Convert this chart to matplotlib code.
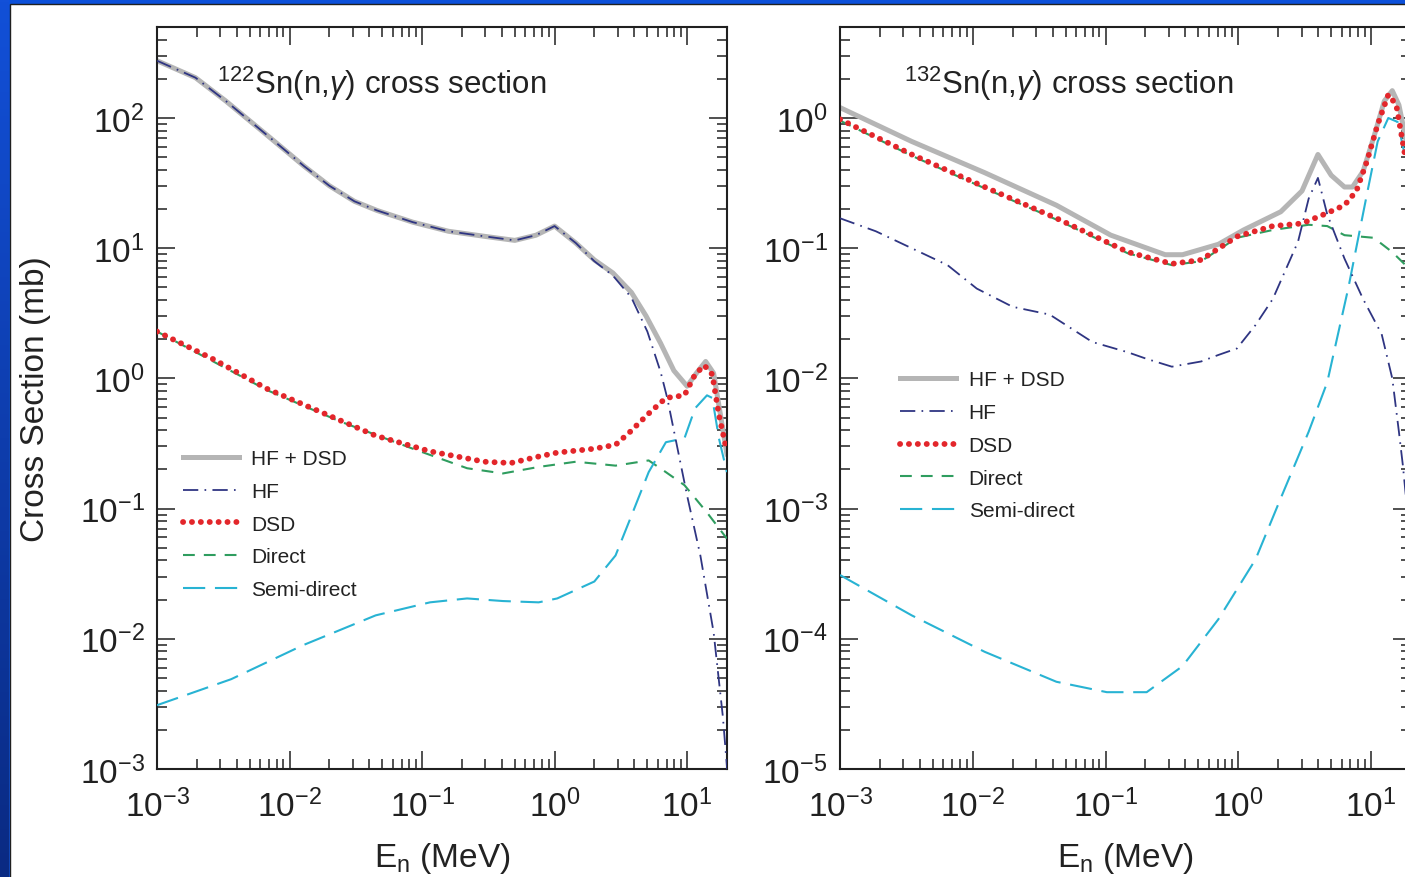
import numpy as np
import matplotlib
matplotlib.use('Agg')
import matplotlib.pyplot as plt
from matplotlib import font_manager
from matplotlib.patches import Rectangle
from matplotlib.ticker import LogLocator, NullFormatter

# narrow font for ticks / titles if there is one
names = set(f.name for f in font_manager.fontManager.ttflist)
narrow = 'Liberation Sans Narrow' if 'Liberation Sans Narrow' in names else 'Liberation Sans'

plt.rcParams['font.family'] = ['Liberation Sans', 'DejaVu Sans']
plt.rcParams['mathtext.fontset'] = 'custom'
plt.rcParams['mathtext.rm'] = narrow
plt.rcParams['mathtext.it'] = narrow + ':italic'
plt.rcParams['mathtext.bf'] = narrow + ':bold'
plt.rcParams['lines.scale_dashes'] = False

# ---- data, log10(E / MeV) and log10(sigma / mb) ----
# 122Sn panel
sn122_tot_x = [-3.0, -2.71, -2.48, -2.16, -1.89, -1.70, -1.51, -1.34, -1.07, -0.80, -0.52, -0.30,
               -0.14, 0.0, 0.16, 0.30, 0.44, 0.58, 0.69, 0.80, 0.90, 1.0, 1.07, 1.14, 1.20, 1.25, 1.30]
sn122_tot_y = [2.44, 2.31, 2.13, 1.86, 1.63, 1.48, 1.36, 1.29, 1.20, 1.13, 1.09, 1.06,
               1.10, 1.17, 1.04, 0.91, 0.81, 0.66, 0.48, 0.27, 0.06, -0.06, 0.04, 0.13, 0.04, -0.27, -0.58]
sn122_hf_x = [-3.0, -2.71, -2.48, -2.16, -1.89, -1.70, -1.51, -1.34, -1.07, -0.80, -0.52, -0.30,
              -0.14, 0.0, 0.16, 0.30, 0.44, 0.58, 0.70, 0.80, 0.85, 0.90, 1.0, 1.10, 1.20, 1.27, 1.31]
sn122_hf_y = [2.44, 2.31, 2.13, 1.86, 1.63, 1.48, 1.36, 1.29, 1.20, 1.13, 1.09, 1.06,
              1.10, 1.17, 1.04, 0.90, 0.79, 0.62, 0.36, 0.05, -0.15, -0.40, -0.90, -1.36, -1.95, -2.6, -3.1]
sn122_dsd_x = [-3.0, -2.58, -2.17, -1.76, -1.35, -0.94, -0.53, -0.33, -0.12, 0.02, 0.30, 0.46,
               0.57, 0.71, 0.84, 0.98, 1.06, 1.13, 1.19, 1.24, 1.30]
sn122_dsd_y = [0.36, 0.15, -0.08, -0.26, -0.44, -0.56, -0.64, -0.65, -0.60, -0.57, -0.54, -0.51,
               -0.41, -0.27, -0.15, -0.13, 0.03, 0.10, 0.03, -0.28, -0.56]
sn122_dir_x = [-3.0, -2.17, -1.62, -1.07, -0.66, -0.39, -0.12, 0.16, 0.46, 0.71, 0.84, 0.98, 1.15, 1.30]
sn122_dir_y = [0.36, -0.09, -0.33, -0.54, -0.69, -0.73, -0.68, -0.64, -0.67, -0.63, -0.72, -0.82, -1.03, -1.23]
sn122_semi_x = [-3.0, -2.44, -1.90, -1.35, -0.94, -0.66, -0.39, -0.12, 0.02, 0.30, 0.46, 0.57,
                0.71, 0.84, 0.98, 1.06, 1.15, 1.19, 1.24, 1.30]
sn122_semi_y = [-2.51, -2.31, -2.05, -1.82, -1.72, -1.69, -1.71, -1.72, -1.69, -1.56, -1.36, -1.08,
                -0.72, -0.49, -0.46, -0.23, -0.13, -0.15, -0.46, -0.72]

# 132Sn panel
sn132_tot_x = [-3.0, -2.46, -1.91, -1.37, -0.96, -0.55, -0.42, -0.15, 0.04, 0.32, 0.48, 0.60,
               0.70, 0.80, 0.86, 0.94, 1.02, 1.10, 1.16, 1.21, 1.30]
sn132_tot_y = [0.08, -0.18, -0.42, -0.67, -0.90, -1.05, -1.05, -0.97, -0.86, -0.72, -0.56, -0.28,
               -0.44, -0.53, -0.53, -0.41, -0.15, 0.13, 0.21, 0.10, -0.35]
sn132_hf_x = [-3.0, -2.73, -2.46, -2.19, -1.97, -1.70, -1.42, -1.10, -0.83, -0.69, -0.50, -0.28,
              -0.15, -0.01, 0.13, 0.26, 0.45, 0.53, 0.60, 0.67, 0.80, 0.94, 1.08, 1.16, 1.21, 1.24, 1.30]
sn132_hf_y = [-0.77, -0.87, -1.00, -1.13, -1.31, -1.45, -1.51, -1.72, -1.80, -1.85, -1.91, -1.87,
              -1.82, -1.77, -1.59, -1.39, -0.95, -0.62, -0.46, -0.74, -1.08, -1.39, -1.66, -2.0, -2.41, -2.67, -3.3]
sn132_dsd_x = [-3.0, -2.46, -1.91, -1.37, -0.83, -0.50, -0.28, -0.01, 0.26, 0.48, 0.67, 0.80,
               0.89, 0.97, 1.05, 1.13, 1.19, 1.26, 1.30]
sn132_dsd_y = [-0.01, -0.28, -0.53, -0.77, -1.03, -1.12, -1.09, -0.91, -0.83, -0.81, -0.73, -0.67,
               -0.56, -0.33, -0.05, 0.18, 0.10, -0.31, -0.50]
sn132_dir_x = [-3.0, -2.46, -1.91, -1.37, -0.83, -0.50, -0.28, -0.01, 0.26, 0.53, 0.67, 0.80,
               1.02, 1.16, 1.26, 1.30]
sn132_dir_y = [-0.02, -0.29, -0.54, -0.78, -1.04, -1.13, -1.10, -0.92, -0.86, -0.82, -0.83, -0.90,
               -0.92, -1.03, -1.13, -1.16]
sn132_semi_x = [-3.0, -2.46, -1.91, -1.37, -0.99, -0.69, -0.42, -0.15, 0.13, 0.32, 0.53, 0.67,
                0.83, 0.97, 1.05, 1.13, 1.20, 1.30]
sn132_semi_y = [-3.51, -3.82, -4.10, -4.33, -4.41, -4.41, -4.21, -3.85, -3.39, -2.92, -2.41, -2.03,
                -1.30, -0.58, -0.18, 0.0, -0.03, -0.50]

labels = ['HF + DSD', 'HF', 'DSD', 'Direct', 'Semi-direct']
titles = [r'$^{122}$Sn(n,$\gamma$) cross section', r'$^{132}$Sn(n,$\gamma$) cross section']
ylims = [(1e-3, 500), (1e-5, 5)]

styles = [
    dict(color='#b5b5b5', lw=3.6, ls='-', zorder=2),
    dict(color='#2f3582', lw=1.3, ls=(0, (11, 4.5, 1.2, 4.5)), zorder=4),
    dict(color='#e3262b', lw=4.2, ls=(0, (0.1, 6.3)), dash_capstyle='round', zorder=5),
    dict(color='#2f9d5f', lw=1.5, ls=(0, (8.5, 6.5)), zorder=3),
    dict(color='#28b3d3', lw=1.5, ls=(0, (16, 7)), zorder=3),
]

panels = [
    [(sn122_tot_x, sn122_tot_y), (sn122_hf_x, sn122_hf_y), (sn122_dsd_x, sn122_dsd_y),
     (sn122_dir_x, sn122_dir_y), (sn122_semi_x, sn122_semi_y)],
    [(sn132_tot_x, sn132_tot_y), (sn132_hf_x, sn132_hf_y), (sn132_dsd_x, sn132_dsd_y),
     (sn132_dir_x, sn132_dir_y), (sn132_semi_x, sn132_semi_y)],
]

W, H = 1405, 878
fig = plt.figure(figsize=(W / 100, H / 100), dpi=100)
fig.patch.set_facecolor('#0c50da')

# white page with a darker gradient strip on the left edge
fig.patches.append(Rectangle((9.5 / W, -0.01), 1.0, (H - 5) / H + 0.01, transform=fig.transFigure,
                             facecolor='white', edgecolor='#202020', lw=1.0, zorder=-5))
bg = fig.add_axes([0, 0, 9 / W, 1], zorder=-4)
grad = np.linspace(0, 1, 256).reshape(-1, 1)
bg.imshow(grad, aspect='auto', cmap=matplotlib.colors.LinearSegmentedColormap.from_list(
    'b', ['#0a2a82', '#1250d8']), origin='lower', extent=[0, 1, 0, 1])
bg.axis('off')

axpos = [[157 / W, 108 / H, 570 / W, 742 / H], [840 / W, 108 / H, 571 / W, 742 / H]]
legpos = [(0.045, 0.330), (0.105, 0.436)]
titlepos = [(0.105, 0.925), (0.112, 0.925)]

for k in range(2):
    ax = fig.add_axes(axpos[k])
    ax.patch.set_alpha(0)
    for (x, y), lab, st in zip(panels[k], labels, styles):
        ax.plot(10 ** np.array(x), 10 ** np.array(y), label=lab, **st)
    ax.set_xscale('log')
    ax.set_yscale('log')
    ax.set_xlim(1e-3, 20)
    ax.set_ylim(*ylims[k])
    ax.yaxis.set_major_locator(LogLocator(base=10, numticks=20))
    ax.yaxis.set_minor_locator(LogLocator(base=10, subs=np.arange(2, 10), numticks=20))
    ax.yaxis.set_minor_formatter(NullFormatter())
    ax.xaxis.set_minor_formatter(NullFormatter())
    ax.tick_params(which='both', direction='in', top=True, right=True, width=1.1, colors='#202020')
    ax.tick_params(which='major', length=13, labelsize=24)
    ax.tick_params(axis='x', which='major', pad=14)
    ax.tick_params(axis='y', which='major', pad=9)
    ax.tick_params(which='minor', length=7.5)
    for sp in ax.spines.values():
        sp.set_linewidth(1.5)
        sp.set_color('#202020')
    ax.set_xlabel(r'E$_\mathregular{n}$ (MeV)', fontsize=24, family=[narrow, 'DejaVu Sans'], color='#222222')
    ax.xaxis.set_label_coords(0.5, -0.096)
    if k == 0:
        ax.set_ylabel('Cross Section (mb)', fontsize=24, color='#222222')
        ax.yaxis.set_label_coords(-0.186, 0.5)
    ax.text(titlepos[k][0], titlepos[k][1], titles[k], transform=ax.transAxes, fontsize=22.5,
            family=[narrow, 'DejaVu Sans'], ha='left', va='center', color='#222222')
    leg = ax.legend(loc='center left', bbox_to_anchor=legpos[k], frameon=False, fontsize=15,
                    handlelength=2.7, handletextpad=0.6, labelspacing=0.66, borderpad=0,
                    borderaxespad=0)
    for t in leg.get_texts():
        t.set_color('#222222')

fig.savefig('out.png', dpi=100, facecolor=fig.get_facecolor())
